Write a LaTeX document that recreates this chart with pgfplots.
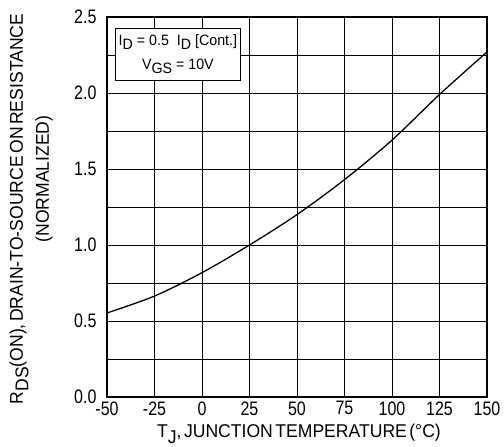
\documentclass[border=0pt]{standalone}
\usepackage{fontspec}
\setmainfont{Liberation Sans}[FakeStretch=0.95]
\newfontfamily\tickfont{Liberation Sans}[FakeStretch=0.82]
\usepackage{pgfplots}
\pgfplotsset{compat=1.18}

\newcommand{\sub}[1]{\raisebox{-0.55ex}{#1}}
\newcommand{\s}{\hspace{2.5pt}}

\begin{document}
\begin{tikzpicture}
\begin{axis}[
  at={(0,0)}, anchor=south west,
  scale only axis, width=380pt, height=380pt,
  xmin=-50, xmax=150, ymin=0, ymax=2.5,
  xtick={-50,-25,...,150},
  ytick={0,0.5,...,2.5},
  minor ytick={0.25,0.75,...,2.25},
  grid=both,
  major grid style={black, line width=0.7pt},
  minor grid style={black, line width=0.7pt},
  axis line style={line width=1.5pt},
  major tick length=0pt, minor tick length=0pt,
  /pgf/number format/assume math mode=true,
  yticklabel style={/pgf/number format/fixed, /pgf/number format/fixed zerofill,
    /pgf/number format/precision=1},
  ticklabel style={font=\tickfont\fontsize{19.5}{20}\selectfont},
  xticklabel style={yshift=-1pt},
  yticklabel style={xshift=-7pt},
]
\addplot[black, line width=1.3pt, smooth] coordinates {
  (-50,0.553) (-25,0.664) (0,0.818) (25,1.0) (50,1.20)
  (75,1.43) (100,1.69) (125,1.99) (150,2.27)
};
\node[draw=black, line width=0.8pt, fill=white, anchor=north west,
  minimum width=125pt, minimum height=52pt, align=center,
  font=\fontsize{15}{24}\selectfont, inner sep=1pt]
  at (rel axis cs:0.021,0.971)
  {I\sub{D} = 0.5\ \ I\sub{D} [Cont.]\\V\sub{GS} = 10V};
\end{axis}
\node[rotate=90, font=\fontsize{18.5}{20}\selectfont] at (-88pt,188pt)
  {R\sub{DS}(ON),\s DRAIN-TO-SOURCE\s ON\s RESISTANCE};
\node[rotate=90, font=\fontsize{18.5}{20}\selectfont] at (-63pt,218pt)
  {(NORMALIZED)};
\node[font=\fontsize{18.5}{20}\selectfont, anchor=base] at (192pt,-41pt)
  {T\sub{J},\s JUNCTION\s TEMPERATURE\s (°C)};
\pgfresetboundingbox
\path (-107pt,-50pt) rectangle (397pt,397pt);
\end{tikzpicture}
\end{document}
